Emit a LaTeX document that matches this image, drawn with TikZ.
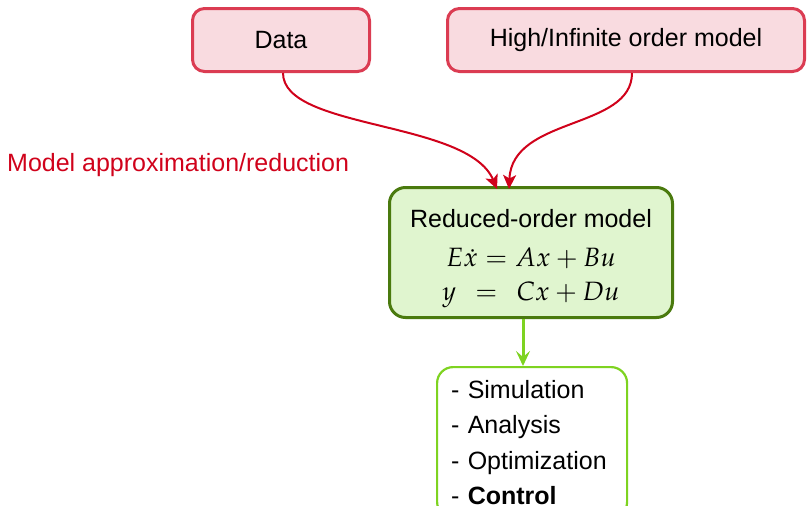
\documentclass[tikz,border=0pt]{standalone}
\usepackage{mathpazo}
\usepackage[no-math]{fontspec}
\setmainfont{Liberation Sans}
\usetikzlibrary{arrows.meta}

\definecolor{srcfill}{HTML}{F9DBE0}
\definecolor{srcline}{HTML}{DB3C52}
\definecolor{flowred}{HTML}{D0021B}
\definecolor{romfill}{HTML}{E0F5CF}
\definecolor{romline}{HTML}{4A7A0E}
\definecolor{usegreen}{HTML}{7ED321}

\begin{document}
\begin{tikzpicture}[x=1pt,y=-1pt,
  txt/.style={font=\fontsize{25}{30}\selectfont},
  eqn/.style={font=\fontsize{26.5}{30}\selectfont},
  srcbox/.style={draw=srcline, fill=srcfill, line width=3pt, rounded corners=12pt,
    minimum height=63pt, txt},
  rombox/.style={draw=romline, fill=romfill, line width=3pt, rounded corners=16pt,
    minimum width=283pt, minimum height=130pt},
  usebox/.style={draw=usegreen, fill=white, line width=2.2pt, rounded corners=16pt,
    txt, align=left, text width=162pt, inner xsep=14pt, inner ysep=13pt,
    font=\fontsize{25}{35.5}\selectfont},
  redflow/.style={draw=flowred, line width=2pt, -{Stealth[length=14pt,width=13pt,inset=3.5pt]}},
  greenflow/.style={draw=usegreen, line width=3pt, -{Stealth[length=15pt,width=14pt,inset=6pt]}}
]
\useasboundingbox (0,0) rectangle (807,506);
\clip (0,0) rectangle (807,506);

% sources
\node[srcbox, minimum width=177pt] (data) at (281,40) {Data};
\node[srcbox, minimum width=357pt] (high) at (626,40) {High/Infinite order model};

% reduced-order model
\node[rombox] (rom) at (531,252.5) {};
\node[txt, anchor=base, inner sep=0pt] (romtitle) at (531,227) {Reduced-order model};
\node[eqn, anchor=base, inner sep=0pt] (romeq1) at (531,266.5) {$E\dot{x} = Ax + Bu$};
\node[eqn, anchor=base, inner sep=0pt] (romeq2) at (531,300.5) {$y\;\,=\;\,Cx + Du$};

% applications
\node[usebox, anchor=north west] (uses) at (436,366)
  {- Simulation\\- Analysis\\- Optimization\\- \textbf{Control}};

% label of the reduction step
\node[txt, text=flowred, anchor=base west, inner sep=0pt] (redlabel) at (7,171)
  {Model approximation/reduction};

% connectors
\draw[redflow] (data.south -| 283,0) .. controls (283,130) and (468,120) ..
  ([xshift=-34pt,yshift=-3pt]rom.north);
\draw[redflow] (high.south -| 632,0) .. controls (632,130) and (512,116) ..
  ([xshift=-22pt,yshift=-3pt]rom.north);
\draw[greenflow] ([xshift=-8pt]rom.south) -- ([xshift=-8pt]uses.north -| rom.south);
\end{tikzpicture}
\end{document}
